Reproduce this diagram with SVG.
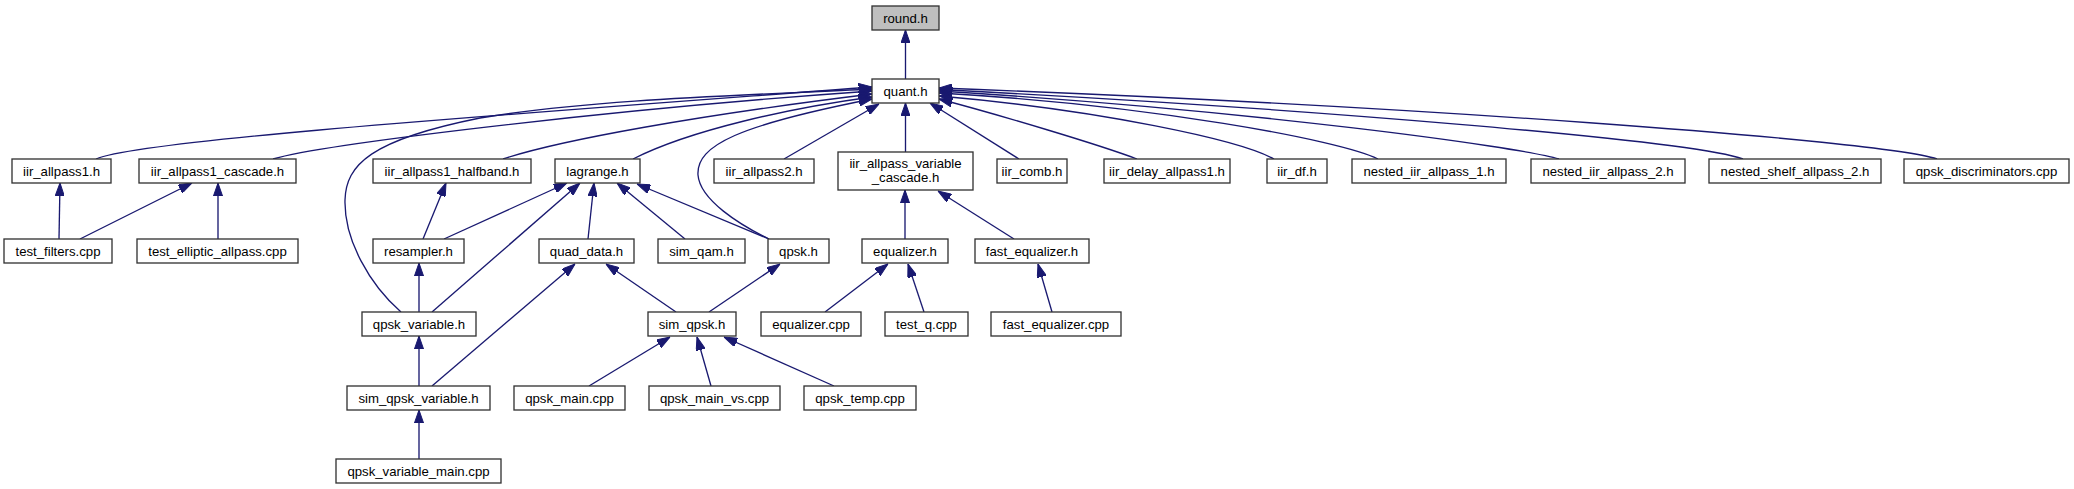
<svg xmlns="http://www.w3.org/2000/svg" width="2074" height="489" viewBox="0 0 2074 489">
<style>
.n rect{fill:#ffffff;stroke:#333333;stroke-width:1.33}
.root rect{fill:#bfbfbf}
.n text{font-family:"Liberation Sans",Arial,Helvetica,sans-serif;font-size:13.2px;fill:#000000;text-anchor:middle}
.e path{fill:none;stroke:#191970;stroke-width:1.33;marker-end:url(#ah)}
</style>
<defs>
<marker id="ah" markerUnits="userSpaceOnUse" viewBox="0 0 13.3 9.3" refX="13.3" refY="4.65" markerWidth="13.3" markerHeight="9.3" orient="auto">
<path d="M0,0 L13.3,4.65 L0,9.3 Z" fill="#191970" stroke="#191970" stroke-width="1"/>
</marker>
</defs>
<rect x="0" y="0" width="2074" height="489" fill="#ffffff"/>
<g id="connectors" class="e">
<path d="M905.5,79 L905.5,30"/>
<path d="M96,159 C140,140 500,115 872,87"/>
<path d="M401,312 C370,285 344,240 345,200 C346,165 370,140 480,118 C600,98 760,95 872,89"/>
<path d="M273,159 C320,145 600,110 872,91"/>
<path d="M503,159 C560,140 700,115 872,94"/>
<path d="M633,159 C690,130 790,108 872,97"/>
<path d="M769,239 C740,225 700,200 698,175 C696,145 740,125 872,99"/>
<path d="M784,159 L879,104"/>
<path d="M905.5,152 L905.5,103"/>
<path d="M1019,159 L930,103"/>
<path d="M1137,159 C1100,145 1000,115 939,99"/>
<path d="M1274,159 C1240,140 1100,110 939,96"/>
<path d="M1378,159 C1340,140 1150,105 939,93"/>
<path d="M1559,159 C1520,147 1250,110 939,91"/>
<path d="M1743,159 C1690,140 1300,108 939,89.5"/>
<path d="M1937,159 C1880,140 1400,105 939,88"/>
<path d="M59,239 L60,183"/>
<path d="M80,239 L192,183"/>
<path d="M218,239 L218,183"/>
<path d="M423,239 L446,183"/>
<path d="M444,239 L567,183"/>
<path d="M432,312 L580,183"/>
<path d="M588,239 L594,183"/>
<path d="M685,239 L617,183"/>
<path d="M769,239 L637,184"/>
<path d="M419,312 L419,263"/>
<path d="M419,386 L419,336"/>
<path d="M432,386 L575,264"/>
<path d="M419,459 L419,410"/>
<path d="M676,312 L606,264"/>
<path d="M709,312 L780,264"/>
<path d="M589,386 L670,337"/>
<path d="M711,386 L697,337"/>
<path d="M834,386 L724,337"/>
<path d="M825,312 L888,264"/>
<path d="M924,312 L908,264"/>
<path d="M1052,312 L1038,264"/>
<path d="M905,239 L905,190"/>
<path d="M1014,239 L938,191"/>
</g>
<g id="node_round_h" class="n root"><rect x="872" y="6" width="67" height="24"/><text x="905.5" y="23">round.h</text></g>
<g id="node_quant_h" class="n"><rect x="872" y="79" width="67" height="24"/><text x="905.5" y="96">quant.h</text></g>
<g id="node_iir_allpass1_h" class="n"><rect x="12" y="159" width="99" height="24"/><text x="61.5" y="176">iir_allpass1.h</text></g>
<g id="node_iir_allpass1_cascade_h" class="n"><rect x="139" y="159" width="157" height="24"/><text x="217.5" y="176">iir_allpass1_cascade.h</text></g>
<g id="node_iir_allpass1_halfband_h" class="n"><rect x="373" y="159" width="158" height="24"/><text x="452" y="176">iir_allpass1_halfband.h</text></g>
<g id="node_lagrange_h" class="n"><rect x="555" y="159" width="85" height="24"/><text x="597.5" y="176">lagrange.h</text></g>
<g id="node_iir_allpass2_h" class="n"><rect x="714" y="159" width="100" height="24"/><text x="764" y="176">iir_allpass2.h</text></g>
<g id="node_iir_allpass_variable_cascade_h" class="n"><rect x="838" y="152" width="135" height="38"/><text x="905.5" y="167.5">iir_allpass_variable</text><text x="905.5" y="182">_cascade.h</text></g>
<g id="node_iir_comb_h" class="n"><rect x="997" y="159" width="70" height="24"/><text x="1032" y="176">iir_comb.h</text></g>
<g id="node_iir_delay_allpass1_h" class="n"><rect x="1104" y="159" width="126" height="24"/><text x="1167" y="176">iir_delay_allpass1.h</text></g>
<g id="node_iir_df_h" class="n"><rect x="1267" y="159" width="60" height="24"/><text x="1297" y="176">iir_df.h</text></g>
<g id="node_nested_iir_allpass_1_h" class="n"><rect x="1352" y="159" width="154" height="24"/><text x="1429" y="176">nested_iir_allpass_1.h</text></g>
<g id="node_nested_iir_allpass_2_h" class="n"><rect x="1531" y="159" width="154" height="24"/><text x="1608" y="176">nested_iir_allpass_2.h</text></g>
<g id="node_nested_shelf_allpass_2_h" class="n"><rect x="1709" y="159" width="172" height="24"/><text x="1795" y="176">nested_shelf_allpass_2.h</text></g>
<g id="node_qpsk_discriminators_cpp" class="n"><rect x="1904" y="159" width="165" height="24"/><text x="1986.5" y="176">qpsk_discriminators.cpp</text></g>
<g id="node_test_filters_cpp" class="n"><rect x="4" y="239" width="108" height="24"/><text x="58" y="256">test_filters.cpp</text></g>
<g id="node_test_elliptic_allpass_cpp" class="n"><rect x="137" y="239" width="161" height="24"/><text x="217.5" y="256">test_elliptic_allpass.cpp</text></g>
<g id="node_resampler_h" class="n"><rect x="373" y="239" width="91" height="24"/><text x="418.5" y="256">resampler.h</text></g>
<g id="node_quad_data_h" class="n"><rect x="539" y="239" width="95" height="24"/><text x="586.5" y="256">quad_data.h</text></g>
<g id="node_sim_qam_h" class="n"><rect x="658" y="239" width="87" height="24"/><text x="701.5" y="256">sim_qam.h</text></g>
<g id="node_qpsk_h" class="n"><rect x="768" y="239" width="61" height="24"/><text x="798.5" y="256">qpsk.h</text></g>
<g id="node_equalizer_h" class="n"><rect x="862" y="239" width="86" height="24"/><text x="905" y="256">equalizer.h</text></g>
<g id="node_fast_equalizer_h" class="n"><rect x="975" y="239" width="114" height="24"/><text x="1032" y="256">fast_equalizer.h</text></g>
<g id="node_qpsk_variable_h" class="n"><rect x="362" y="312" width="114" height="24"/><text x="419" y="329">qpsk_variable.h</text></g>
<g id="node_sim_qpsk_h" class="n"><rect x="648" y="312" width="88" height="24"/><text x="692" y="329">sim_qpsk.h</text></g>
<g id="node_equalizer_cpp" class="n"><rect x="761" y="312" width="100" height="24"/><text x="811" y="329">equalizer.cpp</text></g>
<g id="node_test_q_cpp" class="n"><rect x="885" y="312" width="83" height="24"/><text x="926.5" y="329">test_q.cpp</text></g>
<g id="node_fast_equalizer_cpp" class="n"><rect x="991" y="312" width="130" height="24"/><text x="1056" y="329">fast_equalizer.cpp</text></g>
<g id="node_sim_qpsk_variable_h" class="n"><rect x="347" y="386" width="143" height="24"/><text x="418.5" y="403">sim_qpsk_variable.h</text></g>
<g id="node_qpsk_main_cpp" class="n"><rect x="514" y="386" width="111" height="24"/><text x="569.5" y="403">qpsk_main.cpp</text></g>
<g id="node_qpsk_main_vs_cpp" class="n"><rect x="649" y="386" width="131" height="24"/><text x="714.5" y="403">qpsk_main_vs.cpp</text></g>
<g id="node_qpsk_temp_cpp" class="n"><rect x="804" y="386" width="112" height="24"/><text x="860" y="403">qpsk_temp.cpp</text></g>
<g id="node_qpsk_variable_main_cpp" class="n"><rect x="336" y="459" width="165" height="24"/><text x="418.5" y="476">qpsk_variable_main.cpp</text></g>
</svg>
